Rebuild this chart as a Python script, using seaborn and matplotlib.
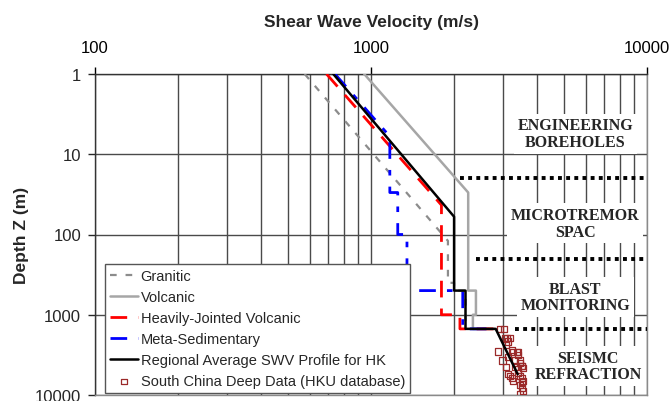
import numpy as np
import pandas as pd
import matplotlib
matplotlib.use("Agg")
import matplotlib.pyplot as plt
import seaborn as sns
from matplotlib.ticker import FixedLocator, FixedFormatter, NullFormatter

# ---------------- data ----------------
granitic_v = [575, 1900, 1900, 2000, 2000, 2200, 2200, 2800]
granitic_d = [1, 120, 400, 400, 500, 500, 1500, 1500]

volcanic_v = [945, 2250, 2250, 2400, 2400, 2340, 2340, 2800]
volcanic_d = [1, 30, 500, 500, 1000, 1000, 1500, 1500]

heavily_v = [690, 1800, 1800, 2100, 2100, 2800]
heavily_d = [1, 43, 1000, 1000, 1500, 1500]

meta_v = [740, 1170, 1170, 1250, 1250, 1350, 1350, 2150, 2150, 2800]
meta_d = [1, 6, 30, 30, 100, 100, 500, 500, 1500, 1500]

regional_v = [730, 2000, 2000, 2200, 2200, 2830, 3400]
regional_d = [1, 60, 500, 500, 1500, 1500, 5500]

deep_v = [2930, 3030, 3060, 3110, 3190, 3140, 3090, 3240, 3270, 3380, 3410, 2890,
          3410, 3470, 3140, 3320, 3470, 3530, 3090, 3330, 3530, 3560, 3140, 3240,
          3270, 3410, 3470, 3530, 3560, 3470, 3530, 3560, 3470, 3530, 3410, 3000, 3190]
deep_d = [1510, 1510, 1960, 1960, 1960, 2140, 2390, 2760, 2900, 2900, 2920, 2850,
          3190, 3680, 3380, 3680, 4000, 4360, 4490, 4490, 4360, 4620, 5490, 6150,
          6700, 5330, 5810, 6150, 6700, 7510, 8190, 8920, 9720, 7000, 4800, 3700, 5800]

boundary_depths = [20, 200, 1500]
boundary_start_v = [2100, 2400, 3330]

zone_labels = ["ENGINEERING\nBOREHOLES", "MICROTREMOR\nSPAC", "BLAST\nMONITORING", "SEISMC\nREFRACTION"]

x_ticks = [100, 1000, 10000]
x_ticklabels = ["100", "1000", "10000"]
y_ticks = [1, 10, 100, 1000, 10000]
y_ticklabels = ["1", "10", "100", "1000", "10000"]

# ---------------- plotting ----------------
sns.set_style("white")
plt.rcParams["font.family"] = ["Liberation Sans", "DejaVu Sans"]

fig = plt.figure(figsize=(6.71, 4.02), dpi=100)
ax = fig.add_axes([95 / 671, 1 - 396 / 402, 552 / 671, 321 / 402])
ax.set_xscale("log")
ax.set_yscale("log")

def prof(v, d, **kw):
    df = pd.DataFrame({"v": v, "d": d})
    sns.lineplot(data=df, x="v", y="d", sort=False, estimator=None, ax=ax, **kw)

prof(granitic_v, granitic_d, color="#8c8c8c", linewidth=1.6, linestyle=(0, (3, 4)),
     label="Granitic", zorder=3)
prof(volcanic_v, volcanic_d, color="#a6a6a6", linewidth=1.8, linestyle="-",
     label="Volcanic", zorder=3)
prof(heavily_v, heavily_d, color="#ff0000", linewidth=2.0, linestyle=(0, (6, 4)),
     label="Heavily-Jointed Volcanic", zorder=4)
prof(meta_v, meta_d, color="#0000ff", linewidth=2.0, linestyle=(0, (6, 4, 2, 4)),
     label="Meta-Sedimentary", zorder=4)
prof(regional_v, regional_d, color="black", linewidth=1.8, linestyle="-",
     label="Regional Average SWV Profile for HK", zorder=6)

sns.scatterplot(x=deep_v, y=deep_d, marker="s", s=22, facecolor="none",
                edgecolor="#9b2a2a", linewidth=0.9, ax=ax, zorder=5,
                label="South China Deep Data (HKU database)")

# dotted boundaries between investigation methods
for dd, vs in zip(boundary_depths, boundary_start_v):
    ax.plot([vs, 10000], [dd, dd], color="black", linewidth=2.8,
            linestyle=(0, (1, 1.1)), zorder=7)

ax.set_xlim(100, 10000)
ax.set_ylim(10000, 1)

# grid
ax.xaxis.set_major_locator(FixedLocator(x_ticks))
ax.xaxis.set_major_formatter(FixedFormatter(x_ticklabels))
minor_x = [m * 10 ** e for e in (2, 3) for m in range(2, 10)]
ax.xaxis.set_minor_locator(FixedLocator(minor_x))
ax.xaxis.set_minor_formatter(NullFormatter())
ax.yaxis.set_major_locator(FixedLocator(y_ticks))
ax.yaxis.set_major_formatter(FixedFormatter(y_ticklabels))
ax.yaxis.set_minor_locator(FixedLocator([]))
ax.grid(True, which="major", axis="both", color="#4a4a4a", linewidth=1.0, zorder=0)
ax.grid(True, which="minor", axis="x", color="#4a4a4a", linewidth=1.0, zorder=0)
ax.set_axisbelow(True)

ax.xaxis.tick_top()
ax.xaxis.set_label_position("top")
ax.tick_params(axis="x", which="major", direction="out", length=5, width=1,
               pad=9, labelsize=12, colors="black", top=True, bottom=False)
ax.tick_params(axis="x", which="minor", length=0)
ax.tick_params(axis="y", which="major", direction="out", length=5, width=1,
               pad=5, labelsize=12, left=True)

for s in ["left", "top"]:
    ax.spines[s].set_color("#333333")
    ax.spines[s].set_linewidth(1.0)
for s in ["right", "bottom"]:
    ax.spines[s].set_color("#8a8a8a")
    ax.spines[s].set_linewidth(1.0)

ax.set_xlabel("Shear Wave Velocity (m/s)", fontsize=12.5, fontweight="bold", labelpad=10)
ax.set_ylabel("Depth Z (m)", fontsize=12.5, fontweight="bold", labelpad=4)

# zone labels
zone_pos = [(0.870, 0.814), (0.870, 0.535), (0.870, 0.305), (0.893, 0.090)]
for txt, (xa, ya) in zip(zone_labels, zone_pos):
    ax.text(xa, ya, txt, transform=ax.transAxes, ha="center", va="center",
            fontsize=11.5, fontweight="bold", family=["Liberation Serif", "DejaVu Serif"],
            linespacing=1.05, zorder=8,
            bbox=dict(facecolor="white", edgecolor="none", pad=2.5))

leg = ax.legend(loc="upper left", bbox_to_anchor=(0.018, 0.408), borderaxespad=0,
                fontsize=10.5, frameon=True, fancybox=False, framealpha=1,
                edgecolor="#555555", handlelength=1.9, handletextpad=0.2,
                labelspacing=0.48, borderpad=0.35, markerscale=0.8)
leg.get_frame().set_linewidth(1.0)
leg.set_zorder(9)

fig.savefig("out.png", dpi=100)
